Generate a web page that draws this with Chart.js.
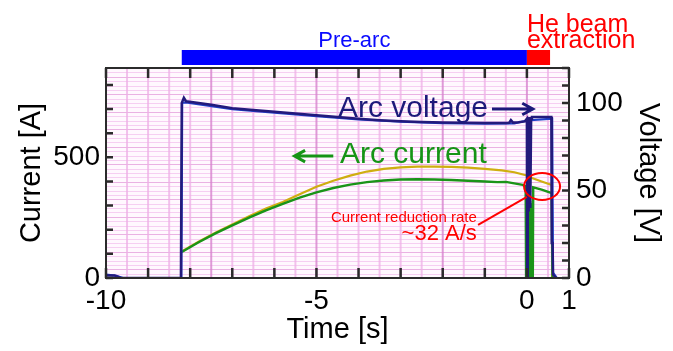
<!DOCTYPE html>
<html>
<head>
<meta charset="utf-8">
<script src="https://cdn.jsdelivr.net/npm/chart.js@4.4.1/dist/chart.umd.min.js"></script>
<style>
html, body { margin: 0; padding: 0; background: #fff; }
#c { display: block; }
</style>
</head>
<body>
<canvas id="c" width="673" height="351"></canvas>
<script>
// arc voltage, navy trace [s] / [V]
var voltTime  = [-10, -9.8, -9.65, -8.22, -8.2, -8.15, -8.1, -7.5, -7.0, -6.5, -6.0, -5.5, -5.0, -4.5, -4.0, -3.5, -3.0, -2.5, -2.0, -1.5, -1.0, -0.5, -0.42, -0.38, -0.33, -0.2, -0.05, 0, 0.005, 0.02, 0.04, 0.06, 0.08, 0.1, 0.12, 0.3, 0.58, 0.59, 0.61, 0.62, 0.7];
var voltValue = [1.5, 1.5, 0, 0, 100, 103, 101, 99, 97, 96, 95, 94, 93, 92, 91, 90.2, 89.6, 89.2, 88.9, 88.7, 88.6, 88.6, 88.7, 90.2, 88.8, 89, 89.5, 91, 0, 90, 38, 92, 40, 91, 92, 92, 92, 20, 20, 2, 0];
// second voltage channel, blue
var volt2Time  = [-10, -9.75, -9.6, -8.21, -8.19, -8.1, -7.0, -6.0, -5.0, -4.0, -3.0, -2.0, -1.0, -0.3, 0, 0.6, 0.62, 0.71];
var volt2Value = [2, 1.2, 0, 0, 100, 100.4, 96.5, 94.5, 92.5, 90.6, 89.3, 88.5, 88.2, 88.3, 90, 91, 3, 0];
// arc current, green [s] / [A]
var currTime  = [-8.2, -7.8, -7.4, -7.0, -6.6, -6.2, -5.8, -5.4, -5.0, -4.6, -4.2, -3.8, -3.4, -3.0, -2.6, -2.2, -1.8, -1.4, -1.0, -0.7, -0.5, -0.3, -0.1, -0.03, -0.02, 0.0, 0.02, 0.04, 0.06, 0.08, 0.1, 0.12, 0.14, 0.15, 0.35, 0.59, 0.6, 0.61];
var currValue = [108, 148, 185, 218, 250, 280, 307, 333, 355, 373, 387, 397, 404, 408, 409, 408, 406, 403, 400, 397, 398, 392, 386, 380, 0, 340, 0, 330, 0, 320, 0, 310, 0, 376, 366, 352, 150, 0];
// second current channel, yellow
var curr2Time  = [-8.2, -7.8, -7.4, -7.0, -6.6, -6.2, -5.8, -5.4, -5.0, -4.6, -4.2, -3.8, -3.4, -3.0, -2.6, -2.2, -1.8, -1.4, -1.0, -0.6, -0.3, 0.0, 0.12, 0.35, 0.59, 0.6];
var curr2Value = [110, 150, 188, 222, 256, 288, 315, 347, 378, 403, 424, 441, 452, 458, 461, 461, 460, 457, 452, 446, 438, 425, 414, 400, 385, 0];

var xTickLabels = [-10, -5, 0, 1];
var currTickLabels = [0, 500];
var voltTickLabels = [0, 50, 100];

// phase bars above the plot [s]
var preArcSpan = [-8.2, 0];
var extractionSpan = [0, 0.55];

var FONT = '"Liberation Sans", Arial, sans-serif';

function pts(t, v) {
    var out = [];
    for (var i = 0; i < t.length; i++) out.push({x: t[i], y: v[i]});
    return out;
}
function showIf(list) {
    return function(v) {
        for (var i = 0; i < list.length; i++) if (Math.abs(list[i] - v) < 1e-6) return String(list[i]);
        return '';
    };
}
function arrow(ctx, x1, y1, x2, y2, col) {
    var ang = Math.atan2(y2 - y1, x2 - x1), h = 12;
    ctx.strokeStyle = col;
    ctx.lineWidth = 3;
    ctx.beginPath();
    ctx.moveTo(x1, y1); ctx.lineTo(x2, y2);
    ctx.moveTo(x2 - h * Math.cos(ang - 0.5), y2 - h * Math.sin(ang - 0.5));
    ctx.lineTo(x2, y2);
    ctx.lineTo(x2 - h * Math.cos(ang + 0.5), y2 - h * Math.sin(ang + 0.5));
    ctx.stroke();
}

var decor = {
    id: 'decor',
    beforeDatasetsDraw: function(chart) {
        var ctx = chart.ctx, a = chart.chartArea, sx = chart.scales.x, sv = chart.scales.yV;
        ctx.save();
        ctx.fillStyle = '#fff8fe';
        ctx.fillRect(a.left, a.top, a.width, a.height);
        for (var v = 0; v <= 120; v += 2.5) {
            var y = Math.round(sv.getPixelForValue(v)) + 0.5;
            ctx.strokeStyle = (v % 10 == 5) ? 'rgba(222,140,212,0.65)' : 'rgba(240,180,234,0.6)';
            ctx.lineWidth = 1;
            ctx.beginPath(); ctx.moveTo(a.left, y); ctx.lineTo(a.right, y); ctx.stroke();
        }
        for (var t = -10; t <= 1; t += 0.5) {
            var x = sx.getPixelForValue(t);
            var major = (t == -7.5 || t == -5 || t == -2 || t == 0);
            ctx.strokeStyle = major ? 'rgba(215,130,205,0.8)' : 'rgba(238,175,230,0.75)';
            ctx.lineWidth = 2;
            ctx.beginPath(); ctx.moveTo(x, a.top); ctx.lineTo(x, a.bottom); ctx.stroke();
        }
        ctx.restore();
    },
    afterDatasetsDraw: function(chart) {
        var ctx = chart.ctx, a = chart.chartArea, s = chart.scales;
        var sx = s.x, si = s.yI, sv = s.yV;
        ctx.save();
        // frame
        ctx.strokeStyle = '#2b2b2b';
        ctx.lineWidth = 2;
        ctx.strokeRect(a.left, a.top, a.width, a.height);
        // inward ticks
        ctx.lineWidth = 2.5;
        ctx.beginPath();
        sx.ticks.forEach(function(tk) {
            var x = sx.getPixelForValue(tk.value);
            ctx.moveTo(x, a.bottom); ctx.lineTo(x, a.bottom - 10);
            ctx.moveTo(x, a.top); ctx.lineTo(x, a.top + 10);
        });
        si.ticks.forEach(function(tk) {
            var y = si.getPixelForValue(tk.value);
            ctx.moveTo(a.left, y); ctx.lineTo(a.left + 7, y);
        });
        sv.ticks.forEach(function(tk) {
            var y = sv.getPixelForValue(tk.value);
            ctx.moveTo(a.right, y); ctx.lineTo(a.right - 7, y);
        });
        ctx.stroke();

        // phase bars
        var b0 = sx.getPixelForValue(preArcSpan[0]), b1 = sx.getPixelForValue(preArcSpan[1]);
        var r1 = sx.getPixelForValue(extractionSpan[1]);
        ctx.fillStyle = '#0000ff';
        ctx.fillRect(b0, 50, b1 - b0, 15);
        ctx.fillStyle = '#ff0000';
        ctx.fillRect(b1, 50, r1 - b1, 15);
        ctx.textBaseline = 'alphabetic';
        ctx.font = '22px ' + FONT;
        ctx.fillStyle = '#0a0aff';
        ctx.textAlign = 'center';
        ctx.fillText('Pre-arc', (b0 + b1) / 2, 47);
        ctx.font = '25px ' + FONT;
        ctx.fillStyle = '#ff0000';
        ctx.textAlign = 'left';
        ctx.fillText('He beam', b1, 32);
        ctx.fillText('extraction', b1, 48);

        // series labels
        ctx.font = '30px ' + FONT;
        ctx.fillStyle = '#1c1a7a';
        ctx.fillText('Arc voltage', sx.getPixelForValue(-4.49), sv.getPixelForValue(92));
        arrow(ctx, sx.getPixelForValue(-0.83), sv.getPixelForValue(96.6), sx.getPixelForValue(0.14), sv.getPixelForValue(96.6), '#1c1a7a');
        ctx.fillStyle = '#169416';
        ctx.fillText('Arc current', sx.getPixelForValue(-4.44), si.getPixelForValue(476));
        arrow(ctx, sx.getPixelForValue(-4.6), si.getPixelForValue(505), sx.getPixelForValue(-5.52), si.getPixelForValue(505), '#169416');

        // reduction rate callout
        ctx.strokeStyle = '#ff0000';
        ctx.lineWidth = 2;
        ctx.beginPath();
        ctx.ellipse(sx.getPixelForValue(0.36), si.getPixelForValue(379), 18, 13.5, 0, 0, Math.PI * 2);
        ctx.stroke();
        ctx.beginPath();
        ctx.moveTo(sx.getPixelForValue(-1.16), si.getPixelForValue(220));
        ctx.lineTo(sx.getPixelForValue(0.0), si.getPixelForValue(336));
        ctx.stroke();
        ctx.fillStyle = '#ff0000';
        ctx.textAlign = 'right';
        ctx.font = '15px ' + FONT;
        ctx.fillText('Current reduction rate', sx.getPixelForValue(-1.19), si.getPixelForValue(232));
        ctx.font = '22px ' + FONT;
        ctx.fillText('~32 A/s', sx.getPixelForValue(-1.19), si.getPixelForValue(157));
        ctx.restore();
    }
};

var ctx = document.getElementById('c').getContext('2d');
var chart = new Chart(ctx, {
    type: 'line',
    data: {
        datasets: [
            { label: 'Arc voltage', data: pts(voltTime, voltValue), yAxisID: 'yV', borderColor: '#231a7c', borderWidth: 2.5 },
            { label: 'Voltage 2', data: pts(volt2Time, volt2Value), yAxisID: 'yV', borderColor: '#2040c8', borderWidth: 2.2 },
            { label: 'Arc current', data: pts(currTime, currValue), yAxisID: 'yI', borderColor: '#1a9418', borderWidth: 2.4 },
            { label: 'Current 2', data: pts(curr2Time, curr2Value), yAxisID: 'yI', borderColor: '#cfae10', borderWidth: 2.2 }
        ]
    },
    options: {
        responsive: false,
        animation: false,
        devicePixelRatio: 1,
        layout: { padding: { top: 68, left: 0, right: 0, bottom: 0 } },
        elements: { point: { radius: 0 }, line: { tension: 0 } },
        plugins: { legend: { display: false }, tooltip: { enabled: false } },
        scales: {
            x: {
                type: 'linear', position: 'bottom', min: -10, max: 1,
                afterFit: function(s) { s.height = 73; },
                grid: { display: false, drawTicks: false },
                border: { display: false },
                ticks: { stepSize: 1, autoSkip: false, maxRotation: 0, includeBounds: false, padding: 6,
                         color: '#000', font: { family: FONT, size: 28 }, callback: showIf(xTickLabels) },
                title: { display: true, text: 'Time [s]', color: '#000', font: { family: FONT, size: 29 }, padding: { top: 0, bottom: 4 } }
            },
            yI: {
                type: 'linear', position: 'left', min: 0, max: 870,
                afterFit: function(s) { s.width = 106; },
                grid: { display: false, drawTicks: false },
                border: { display: false },
                ticks: { stepSize: 100, autoSkip: false, includeBounds: false, padding: 6,
                         color: '#000', font: { family: FONT, size: 28 }, callback: showIf(currTickLabels) },
                title: { display: true, text: 'Current [A]', color: '#000', font: { family: FONT, size: 29 }, padding: { top: 15, bottom: 0 } }
            },
            yV: {
                type: 'linear', position: 'right', min: 0, max: 120,
                afterFit: function(s) { s.width = 104; },
                grid: { display: false, drawTicks: false },
                border: { display: false },
                ticks: { stepSize: 10, autoSkip: false, includeBounds: false, padding: 7,
                         color: '#000', font: { family: FONT, size: 28 }, callback: showIf(voltTickLabels) },
                title: { display: true, text: 'Voltage [V]', color: '#000', font: { family: FONT, size: 29 }, padding: { top: 8, bottom: 0 } }
            }
        }
    },
    plugins: [decor]
});
</script>
</body>
</html>
